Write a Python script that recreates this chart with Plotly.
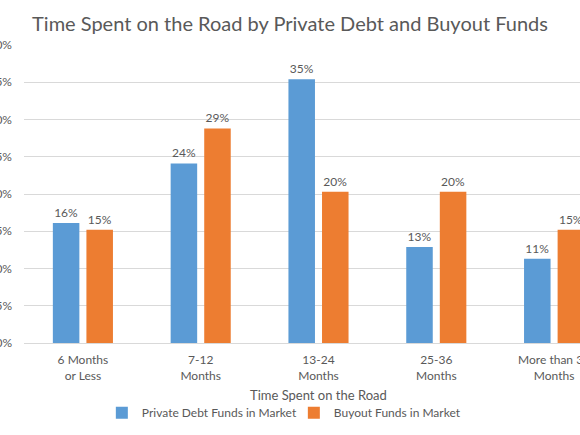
import plotly.graph_objects as go

# Data
categories = ["6 Months<br>or Less", "7-12<br>Months", "13-24<br>Months",
              "25-36<br>Months", "More than 36<br>Months"]
private_debt = [0.161, 0.241, 0.354, 0.129, 0.113]
buyout = [0.152, 0.288, 0.203, 0.203, 0.152]
y_ticks = [0, 0.05, 0.10, 0.15, 0.20, 0.25, 0.30, 0.35, 0.40]

TEXT = "#595959"
FONT = "Lato, Carlito, 'Open Sans', sans-serif"

fig = go.Figure()
fig.add_trace(go.Bar(
    name="Private Debt Funds in Market", x=list(range(len(categories))), y=private_debt,
    marker_color="#5B9BD5", text=private_debt, texttemplate="%{text:.0%}",
    textposition="outside", cliponaxis=False,
    textfont=dict(size=12, color=TEXT)))
fig.add_trace(go.Bar(
    name="Buyout Funds in Market", x=list(range(len(categories))), y=buyout,
    marker_color="#ED7D31", text=buyout, texttemplate="%{text:.0%}",
    textposition="outside", cliponaxis=False,
    textfont=dict(size=12, color=TEXT)))

fig.update_layout(
    template="none",
    width=580, height=435,
    margin=dict(l=24, r=0, t=45, b=92),
    paper_bgcolor="white", plot_bgcolor="white",
    font=dict(family=FONT, size=12, color=TEXT),
    title=dict(text="Time Spent on the Road by Private Debt and Buyout Funds",
               x=0.5, xref="container", y=0.945, yanchor="middle",
               font=dict(family=FONT, size=20, color=TEXT)),
    barmode="group", bargap=0.43, bargroupgap=0.21,
    showlegend=True,
    legend=dict(orientation="h", x=0.14, xanchor="left", y=-0.234, yanchor="middle",
                font=dict(size=12, color=TEXT), itemwidth=30,
                entrywidth=147, entrywidthmode="pixels"),
    xaxis=dict(range=[-0.5, 4.22], tickvals=list(range(len(categories))),
               ticktext=categories, showgrid=False, zeroline=False,
               showline=True, linecolor="#D9D9D9", linewidth=1, ticks="",
               automargin=False, ticklabeloverflow="allow", ticklabelstandoff=6,
               tickfont=dict(size=12, color=TEXT)),
    yaxis=dict(range=[0, 0.40], tickvals=y_ticks, tickformat=".0%",
               showgrid=True, gridcolor="#D9D9D9", gridwidth=1, zeroline=False,
               showline=False, ticks="", automargin=False,
               ticklabeloverflow="allow", ticklabelstandoff=11,
               tickfont=dict(size=12, color=TEXT)),
    annotations=[dict(text="Time Spent on the Road", x=2, xref="x", y=-0.173,
                      yref="paper", showarrow=False, yanchor="middle",
                      font=dict(size=13, color=TEXT))],
)

# drop the browser's default page margin so the chart starts at the corner
fig.write_html("out.html", config={"displayModeBar": False},
               post_script="document.body.style.margin='0';")
